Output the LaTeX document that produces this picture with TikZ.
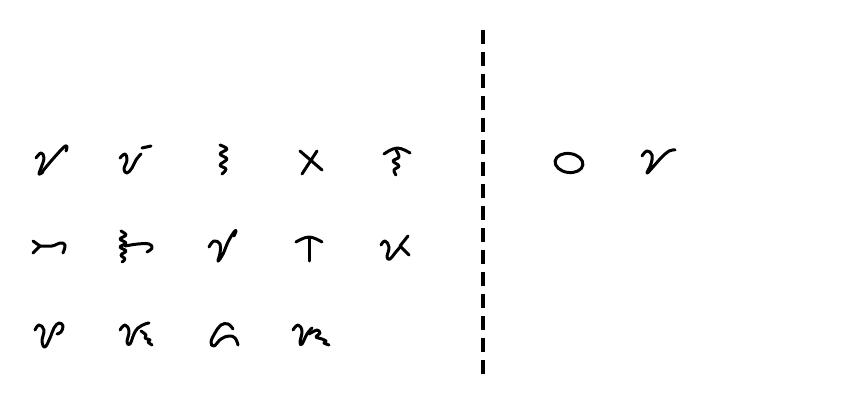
\documentclass[tikz,border=0pt]{standalone}
\usetikzlibrary{calc}

\begin{document}
\begin{tikzpicture}[
  x=1pt, y=-1pt,
  glyph/.style={line width=3pt, line cap=round, line join=round},
  divider/.style={line width=4pt, dash pattern=on 14pt off 8pt}
]
\useasboundingbox (0,0) rectangle (859,406);

%% Divider
\coordinate (top) at (483,30);
\coordinate (bot) at (483,375);
\draw[divider] (top) -- (bot);

%% Row 1
\draw[glyph] plot[smooth, tension=0.7] coordinates {(36,158) (41,153) (44,158) (41,168) (39,174) (43,172)};
\draw[glyph] plot[smooth, tension=0.6] coordinates {(42,172) (52,160) (64,147) (67,147) (66,151)};

\draw[glyph] plot[smooth, tension=0.7] coordinates {(120,158) (125,154) (127,160) (124,169) (127,173) (132,168) (136,160) (141,154)};
\draw[glyph] (142,148) -- (151,146);

\draw[glyph] plot[smooth, tension=0.6] coordinates {(220,145) (227,149) (220,154) (227,159) (220,165) (226,169) (222,174)};

\draw[glyph] (300,151) -- (322,170);
\draw[glyph] (317,151) -- (302,174);

\draw[glyph] plot[smooth, tension=0.7] coordinates {(384,154) (397,148) (410,153)};
\draw[glyph] plot[smooth, tension=0.6] coordinates {(396,150) (399,157) (393,161) (399,166) (394,170) (396,175)};

%% Row 2
\draw[glyph] (33,241) -- (40,246) -- (33,253);
\draw[glyph] plot[smooth, tension=0.7] coordinates {(40,246) (52,246) (60,243) (65,245) (63,253)};

\draw[glyph] plot[smooth, tension=0.6] coordinates {(121,231) (126,235) (120,239) (126,243) (120,247) (126,251) (121,255) (125,259) (122,262)};
\draw[glyph] plot[smooth, tension=0.7] coordinates {(125,246) (138,244) (149,244) (152,248) (147,252)};

\draw[glyph] plot[smooth, tension=0.7] coordinates {(209,247) (214,241) (220,244) (220,253) (218,261) (223,254) (228,242) (234,232) (236,231) (234,236)};

\draw[glyph] plot[smooth, tension=0.7] coordinates {(296,242) (309,237) (322,242)};
\draw[glyph] (309,238) -- (309,261);

\draw[glyph] plot[smooth, tension=0.7] coordinates {(381,245) (385,241) (389,247) (387,257) (390,259) (395,253) (401,246)};
\draw[glyph] (408,236) -- (400,246) -- (409,255);

%% Row 3
\draw[glyph] plot[smooth, tension=0.7] coordinates {(35,330) (39,325) (44,330) (42,341) (45,347) (50,338) (54,328) (59,323) (63,326) (61,332) (57,334)};

\draw[glyph] plot[smooth, tension=0.7] coordinates {(120,330) (125,325) (129,331) (127,342) (130,344) (134,334) (138,328) (145,324) (149,323)};
\draw[glyph] plot[smooth, tension=0.5] coordinates {(141,331) (146,335) (145,338) (150,340) (148,342) (152,345)};

\draw[glyph] plot[smooth, tension=0.7] coordinates {(233,329) (228,324) (221,325) (215,333) (211,342) (214,346) (221,339) (229,336) (235,338) (238,345)};

\draw[glyph] plot[smooth, tension=0.7] coordinates {(293,330) (298,325) (302,331) (300,342) (302,344) (307,334) (312,328)};
\draw[glyph] plot[smooth, tension=0.5] coordinates {(309,334) (317,330) (320,333) (316,337) (322,339) (326,341) (324,343) (329,345)};

%% Right side
\draw[glyph, rotate around={-8:(569,163)}] (569,163) ellipse (14 and 9.5);

\draw[glyph] plot[smooth, tension=0.7] coordinates {(642,156) (647,151) (652,155) (651,164) (647,173) (653,167) (661,158) (669,151) (675,150)};
\end{tikzpicture}
\end{document}
